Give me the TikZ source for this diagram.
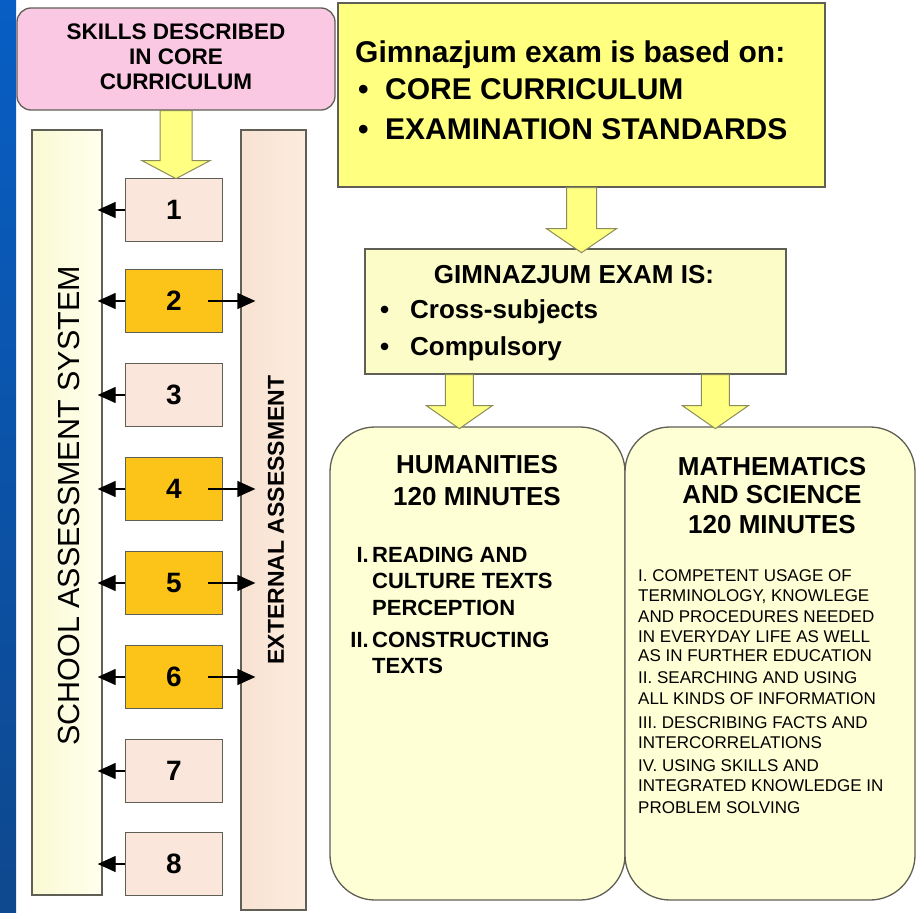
\documentclass[tikz,border=0pt]{standalone}
\usepackage{fontspec}
\setmainfont{Liberation Sans}
\usetikzlibrary{arrows.meta,calc}
\definecolor{blueTop}{RGB}{8,94,196}
\definecolor{blueBot}{RGB}{14,72,142}
\definecolor{pinkfill}{RGB}{250,200,226}
\definecolor{schoolL}{RGB}{250,250,212}
\definecolor{schoolR}{RGB}{255,255,238}
\definecolor{extL}{RGB}{248,226,210}
\definecolor{extR}{RGB}{252,236,222}
\definecolor{lightbox}{RGB}{250,230,218}
\definecolor{goldbox}{RGB}{252,196,24}
\definecolor{bigyellow}{RGB}{255,255,128}
\definecolor{midyellow}{RGB}{252,252,200}
\definecolor{paleyellow}{RGB}{255,255,214}
\definecolor{edgegray}{RGB}{95,95,85}
\definecolor{arrowfill}{RGB}{255,255,130}
\definecolor{arrowedge}{RGB}{140,140,90}
\begin{document}
\begin{tikzpicture}[x=1pt,y=-1pt,
  frame/.style={draw=edgegray, line width=1.3pt, inner sep=0pt},
  numbox/.style={frame, minimum width=97pt, minimum height=63pt, font=\fontsize{28}{28}\selectfont\bfseries},
  lightnum/.style={numbox, fill=lightbox},
  goldnum/.style={numbox, fill=goldbox},
  arr/.style={line width=1.3pt, -{Triangle[length=18pt,width=16pt]}},
  blockarrow/.style={fill=arrowfill, draw=arrowedge, line width=1pt},
  txt/.style={inner sep=0pt, anchor=base west},
  ctxt/.style={inner sep=0pt, anchor=base},
  bigfont/.style={font=\fontsize{30}{30}\selectfont\bfseries},
  midfont/.style={font=\fontsize{26}{26}\selectfont\bfseries},
  humfont/.style={font=\fontsize{22}{22}\selectfont\bfseries},
  smallfont/.style={font=\fontsize{17}{17}\selectfont},
]
\useasboundingbox (0,0) rectangle (917,912);
\fill[white] (0,0) rectangle (917,912);
\shade[top color=blueTop, bottom color=blueBot] (0,0) rectangle (16,912);

% top-left pink box
\node[frame, fill=pinkfill, rounded corners=14pt, minimum width=318pt, minimum height=102pt] (pink) at (176,59) {};
\node[inner sep=0pt, align=center, font=\fontsize{22.5}{25}\selectfont\bfseries] (pinktext) at (176,57) {SKILLS DESCRIBED\\IN CORE\\CURRICULUM};

% tall side boxes
\node[frame, left color=schoolL, right color=schoolR, minimum width=70pt, minimum height=765pt] (school) at (67,512.5) {};
\node[frame, left color=extL, right color=extR, minimum width=65pt, minimum height=780pt] (ext) at (273.5,520) {};
\node[inner sep=0pt, rotate=90, font=\fontsize{30.5}{30.5}\selectfont] (schooltext) at (68.5,506) {SCHOOL ASSESSMENT SYSTEM};
\node[inner sep=0pt, rotate=90, font=\fontsize{23}{23}\selectfont\bfseries] (exttext) at (276,520) {EXTERNAL ASSESSMENT};

% numbered boxes
\node[lightnum] (b1) at (174,210) {1};
\node[goldnum]  (b2) at (174,301) {2};
\node[lightnum] (b3) at (174,395) {3};
\node[goldnum]  (b4) at (174,489) {4};
\node[goldnum]  (b5) at (174,583) {5};
\node[goldnum]  (b6) at (174,677) {6};
\node[lightnum] (b7) at (174,771) {7};
\node[lightnum] (b8) at (174,864) {8};

\foreach \b in {b1,b2,b3,b4,b5,b6,b7,b8}{
  \draw[arr] (\b.west) -- ($(\b.west -| school.east)+(-5,0)$);
}
\foreach \b in {b2,b4,b5,b6}{
  \draw[arr] ([xshift=-15pt]\b.east) -- ($(\b.east -| ext.west)+(15,0)$);
}

% big yellow box
\node[frame, fill=bigyellow, minimum width=487pt, minimum height=184pt] (big) at (581.5,95) {};
\node[txt, bigfont] (bt1) at (355,63) {Gimnazjum exam is based on:};
\node[txt, bigfont] (bb2) at (358,100) {•};
\node[txt, bigfont] (bt2) at (385,100) {CORE CURRICULUM};
\node[txt, bigfont] (bb3) at (358,140) {•};
\node[txt, bigfont] (bt3) at (385,140) {EXAMINATION STANDARDS};

% gimnazjum exam is box
\node[frame, fill=midyellow, minimum width=421pt, minimum height=125pt] (gim) at (575.5,311.5) {};
\node[ctxt, midfont] (gt1) at (574,283) {GIMNAZJUM EXAM IS:};
\node[txt, midfont] (gb2) at (380,318) {•};
\node[txt, midfont] (gt2) at (410,318) {Cross-subjects};
\node[txt, midfont] (gb3) at (380,355) {•};
\node[txt, midfont] (gt3) at (410,355) {Compulsory};

% bottom boxes
\node[frame, fill=paleyellow, rounded corners=45pt, minimum width=295pt, minimum height=473pt] (hum) at (477.5,663.5) {};
\node[frame, fill=paleyellow, rounded corners=45pt, minimum width=290pt, minimum height=473pt] (math) at (770,663.5) {};

\node[ctxt, midfont] (h1) at (477,473) {HUMANITIES};
\node[ctxt, midfont] (h2) at (477,505) {120 MINUTES};
\node[inner sep=0pt, anchor=base east, humfont] (hn1) at (369,562) {I.};
\node[txt, humfont] (hl1) at (372,562) {READING AND};
\node[txt, humfont] (hl2) at (372,588) {CULTURE TEXTS};
\node[txt, humfont] (hl3) at (372,615) {PERCEPTION};
\node[inner sep=0pt, anchor=base east, humfont] (hn2) at (369,647) {II.};
\node[txt, humfont] (hl4) at (372,647) {CONSTRUCTING};
\node[txt, humfont] (hl5) at (372,673) {TEXTS};

\node[ctxt, midfont] (m1) at (772,475) {MATHEMATICS};
\node[ctxt, midfont] (m2) at (772,503) {AND SCIENCE};
\node[ctxt, midfont] (m3) at (772,533) {120 MINUTES};
\node[txt, smallfont] (ml1)  at (638,581) {I. COMPETENT USAGE OF};
\node[txt, smallfont] (ml2)  at (638,601) {TERMINOLOGY, KNOWLEGE};
\node[txt, smallfont] (ml3)  at (638,622) {AND PROCEDURES NEEDED};
\node[txt, smallfont] (ml4)  at (638,642) {IN EVERYDAY LIFE AS WELL};
\node[txt, smallfont] (ml5)  at (638,661) {AS IN FURTHER EDUCATION};
\node[txt, smallfont] (ml6)  at (638,683) {II. SEARCHING AND USING};
\node[txt, smallfont] (ml7)  at (638,704) {ALL KINDS OF INFORMATION};
\node[txt, smallfont] (ml8)  at (638,728) {III. DESCRIBING FACTS AND};
\node[txt, smallfont] (ml9)  at (638,748) {INTERCORRELATIONS};
\node[txt, smallfont] (ml10) at (638,771) {IV. USING SKILLS AND};
\node[txt, smallfont] (ml11) at (638,791) {INTEGRATED KNOWLEDGE IN};
\node[txt, smallfont] (ml12) at (638,813) {PROBLEM SOLVING};

% block arrows
\draw[blockarrow] ($(pink.south)+(-16,0)$) -- ($(pink.south)+(16,0)$) -- ($(pink.south)+(16,50)$) -- ($(pink.south)+(34,50)$) -- ($(pink.south)+(0,68)$) -- ($(pink.south)+(-34,50)$) -- ($(pink.south)+(-16,50)$) -- cycle;
\draw[blockarrow] ($(big.south)+(-15,0)$) -- ($(big.south)+(15,0)$) -- ($(big.south)+(15,41)$) -- ($(big.south)+(35,41)$) -- ($(big.south)+(0,65)$) -- ($(big.south)+(-35,41)$) -- ($(big.south)+(-15,41)$) -- cycle;
\coordinate (ga) at ($(gim.south west)+(95,0)$);
\coordinate (gb) at ($(gim.south west)+(351,0)$);
\foreach \c in {ga,gb}{
  \draw[blockarrow] ($(\c)+(-14,0)$) -- ($(\c)+(14,0)$) -- ($(\c)+(14,31)$) -- ($(\c)+(33,31)$) -- ($(\c)+(0,54)$) -- ($(\c)+(-33,31)$) -- ($(\c)+(-14,31)$) -- cycle;
}
\end{tikzpicture}
\end{document}
